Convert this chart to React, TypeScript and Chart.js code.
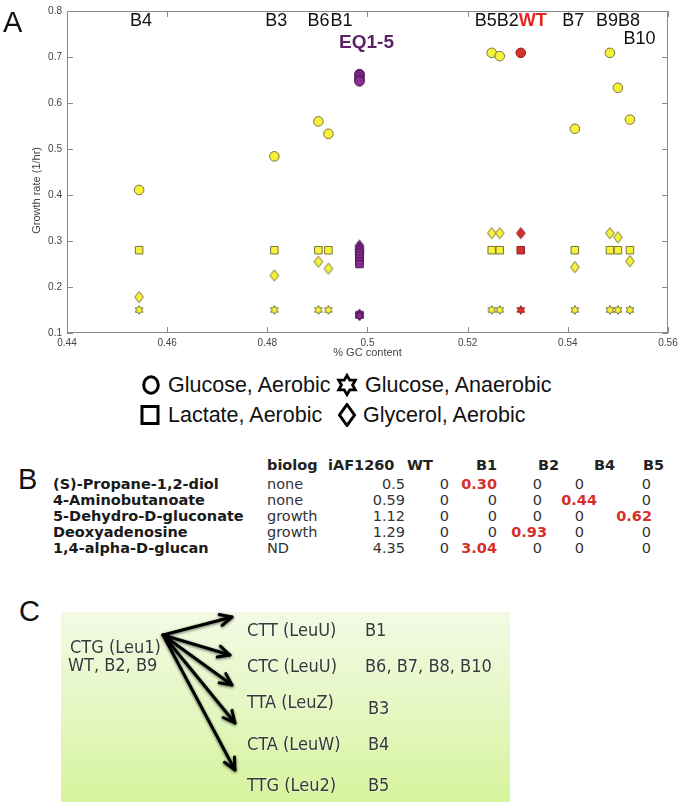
import React, { useEffect, useRef } from 'react';
import { Chart, registerables } from 'chart.js';
Chart.register(...registerables);

// ---------- Panel A data ----------
const strains = ['B4', 'B3', 'B6', 'B1', 'B5', 'B2', 'B7', 'B9', 'B8', 'B10'];
const strainGC = [0.4544, 0.4814, 0.4902, 0.4922, 0.5248, 0.5264, 0.5414, 0.5484, 0.55, 0.5524];
const strainGlcAerobic = [0.411, 0.484, 0.56, 0.533, 0.709, 0.702, 0.544, 0.709, 0.633, 0.564];
const strainGlcAnaerobic = [0.15, 0.15, 0.15, 0.15, 0.15, 0.15, 0.15, 0.15, 0.15, 0.15];
const strainLacAerobic = [0.28, 0.28, 0.28, 0.28, 0.28, 0.28, 0.28, 0.28, 0.28, 0.28];
const strainGlyAerobic = [0.178, 0.225, 0.255, 0.24, 0.317, 0.317, 0.243, 0.317, 0.308, 0.256];

const wtGC = [0.5306];
const wtGlcAerobic = [0.709];
const wtGlcAnaerobic = [0.15];
const wtLacAerobic = [0.28];
const wtGlyAerobic = [0.317];

const eqGC = [0.4984, 0.4984, 0.4984, 0.4984, 0.4984];
const eqGlcAerobic = [0.663, 0.66, 0.655, 0.65, 0.647];
const eqGlcAnaerobic = [0.142, 0.14, 0.139, 0.138, 0.137];
const eqLacAerobic = [0.274, 0.268, 0.262, 0.256, 0.25];
const eqGlyAerobic = [0.29, 0.286, 0.282, 0.278, 0.272];

const tagNames = ['B4', 'B3', 'B6', 'B1', 'B5', 'B2', 'WT', 'B7', 'B9', 'B8', 'B10', 'EQ1-5'];
const tagGC = [0.4548, 0.4818, 0.4902, 0.4948, 0.5236, 0.528, 0.533, 0.5411, 0.5478, 0.5522, 0.5543, 0.4998];
const tagRate = [0.779, 0.779, 0.779, 0.779, 0.779, 0.779, 0.779, 0.779, 0.779, 0.779, 0.74, 0.732];

const conditionNames = ['Glucose, Aerobic', 'Glucose, Anaerobic', 'Lactate, Aerobic', 'Glycerol, Aerobic'];

// ---------- Panel B data ----------
const metabolites = ['(S)-Propane-1,2-diol', '4-Aminobutanoate', '5-Dehydro-D-gluconate', 'Deoxyadenosine', '1,4-alpha-D-glucan'];
const biologCol = ['none', 'none', 'growth', 'growth', 'ND'];
const iAF1260Col = ['0.5', '0.59', '1.12', '1.29', '4.35'];
const wtCol = ['0', '0', '0', '0', '0'];
const b1Col = ['0.30', '0', '0', '0', '3.04'];
const b2Col = ['0', '0', '0', '0.93', '0'];
const b4Col = ['0', '0.44', '0', '0', '0'];
const b5Col = ['0', '0', '0.62', '0', '0'];

// ---------- Panel C data ----------
const codonSource = ['CTG (Leu1)', 'WT, B2, B9'];
const codonTargets = ['CTT (LeuU)', 'CTC (LeuU)', 'TTA (LeuZ)', 'CTA (LeuW)', 'TTG (Leu2)'];
const codonStrains = ['B1', 'B6, B7, B8, B10', 'B3', 'B4', 'B5'];

const YELLOW = '#f6f23a';
const YELLOW_EDGE = '#77733a';
const RED = '#d7302b';
const RED_EDGE = '#8a1f1f';
const PURPLE = '#8d2b93';
const PURPLE_EDGE = '#4f1a58';

function makeShape(kind: string, fill: string, stroke: string): HTMLCanvasElement {
  const c = document.createElement('canvas');
  c.width = 14;
  c.height = 14;
  const g = c.getContext('2d')!;
  g.translate(7, 7);
  g.beginPath();
  if (kind === 'diamond') {
    g.moveTo(0, -5.6);
    g.lineTo(4.3, 0);
    g.lineTo(0, 5.6);
    g.lineTo(-4.3, 0);
    g.closePath();
  } else {
    const R = 4.4;
    for (let k = 0; k < 12; k++) {
      const a = ((-90 + k * 30) * Math.PI) / 180;
      const r = k % 2 === 0 ? R : R / Math.sqrt(3);
      const px = r * Math.cos(a);
      const py = r * Math.sin(a);
      if (k === 0) g.moveTo(px, py);
      else g.lineTo(px, py);
    }
    g.closePath();
  }
  g.fillStyle = fill;
  g.fill();
  g.lineWidth = 1;
  g.strokeStyle = stroke;
  g.stroke();
  return c;
}

function GrowthChart() {
  const ref = useRef<HTMLCanvasElement>(null);
  useEffect(() => {
    const groups = [
      { gc: strainGC, vals: [strainGlcAerobic, strainGlcAnaerobic, strainLacAerobic, strainGlyAerobic], fill: YELLOW, edge: YELLOW_EDGE },
      { gc: eqGC, vals: [eqGlcAerobic, eqGlcAnaerobic, eqLacAerobic, eqGlyAerobic], fill: PURPLE, edge: PURPLE_EDGE },
      { gc: wtGC, vals: [wtGlcAerobic, wtGlcAnaerobic, wtLacAerobic, wtGlyAerobic], fill: RED, edge: RED_EDGE },
    ];
    const order = [2, 3, 0, 1];
    const datasets: any[] = [];
    groups.forEach((grp) => {
      order.forEach((ci) => {
        let pointStyle: any = 'circle';
        let radius = 4.8;
        if (ci === 1) { pointStyle = makeShape('star', grp.fill, grp.edge); radius = 5; }
        if (ci === 2) { pointStyle = 'rect'; radius = 5.3; }
        if (ci === 3) { pointStyle = makeShape('diamond', grp.fill, grp.edge); radius = 5; }
        datasets.push({
          label: conditionNames[ci],
          data: grp.gc.map((x, i) => ({ x, y: grp.vals[ci][i] })),
          pointStyle,
          pointRadius: radius,
          pointBackgroundColor: grp.fill,
          pointBorderColor: grp.edge,
          pointBorderWidth: 1,
          showLine: false,
        });
      });
    });

    const decor = {
      id: 'decor',
      afterDraw(chart: any) {
        const { ctx, chartArea: a, scales } = chart;
        const xs = scales.x;
        const ys = scales.y;
        ctx.save();
        ctx.strokeStyle = '#8a8a8a';
        ctx.lineWidth = 1;
        ctx.strokeRect(a.left + 0.5, a.top + 0.5, a.right - a.left - 1, a.bottom - a.top - 1);
        ctx.beginPath();
        xs.ticks.forEach((t: any) => {
          const px = Math.round(xs.getPixelForValue(t.value)) + 0.5;
          ctx.moveTo(px, a.bottom); ctx.lineTo(px, a.bottom - 6);
          ctx.moveTo(px, a.top); ctx.lineTo(px, a.top + 6);
        });
        ys.ticks.forEach((t: any) => {
          const py = Math.round(ys.getPixelForValue(t.value)) + 0.5;
          ctx.moveTo(a.left, py); ctx.lineTo(a.left + 6, py);
          ctx.moveTo(a.right, py); ctx.lineTo(a.right - 6, py);
        });
        ctx.stroke();

        // axis titles
        ctx.fillStyle = '#444';
        ctx.font = '11px "Liberation Sans", Arial, sans-serif';
        ctx.textAlign = 'center';
        ctx.textBaseline = 'middle';
        ctx.fillText('% GC content', (a.left + a.right) / 2, a.bottom + 20);
        ctx.save();
        ctx.translate(37, ys.getPixelForValue(0.41));
        ctx.rotate(-Math.PI / 2);
        ctx.fillText('Growth rate (1/hr)', 0, 0);
        ctx.restore();

        // strain tags
        tagNames.forEach((name, i) => {
          const px = xs.getPixelForValue(tagGC[i]);
          const py = ys.getPixelForValue(tagRate[i]);
          if (name === 'WT') {
            ctx.fillStyle = '#e8231d';
            ctx.font = 'bold 18px "Liberation Sans", Arial, sans-serif';
          } else if (name.startsWith('EQ')) {
            ctx.fillStyle = '#5c1f68';
            ctx.font = 'bold 19px "Liberation Sans", Arial, sans-serif';
          } else {
            ctx.fillStyle = '#111';
            ctx.font = '18px "Liberation Sans", Arial, sans-serif';
          }
          ctx.fillText(name, px, py);
        });
        ctx.restore();
      },
    };

    const chart = new Chart(ref.current!, {
      type: 'scatter',
      data: { datasets },
      options: {
        animation: false,
        responsive: false,
        devicePixelRatio: 1,
        layout: { padding: { top: 10, right: 14, left: 0, bottom: 0 } },
        plugins: { legend: { display: false }, tooltip: { enabled: false }, title: { display: false } },
        scales: {
          x: {
            type: 'linear',
            min: 0.44,
            max: 0.56,
            grid: { display: false, drawTicks: false },
            border: { display: false },
            ticks: {
              stepSize: 0.02,
              padding: 4,
              color: '#444',
              font: { size: 10, family: '"Liberation Sans", Arial, sans-serif' },
              callback: (v: any) => String(Math.round(Number(v) * 100) / 100),
            },
            afterFit: (s: any) => { s.height = 32; },
          },
          y: {
            type: 'linear',
            min: 0.1,
            max: 0.8,
            grid: { display: false, drawTicks: false },
            border: { display: false },
            ticks: {
              stepSize: 0.1,
              padding: 5,
              color: '#444',
              font: { size: 10, family: '"Liberation Sans", Arial, sans-serif' },
              callback: (v: any) => String(Math.round(Number(v) * 10) / 10),
            },
            afterFit: (s: any) => { s.width = 67; },
          },
        },
      },
      plugins: [decor],
    });
    return () => chart.destroy();
  }, []);
  return <canvas ref={ref} width={682} height={365} style={{ position: 'absolute', left: 0, top: 0, width: 682, height: 365 }} />;
}

function LegendIcon({ kind }: { kind: number }) {
  const s = 24;
  let shape: any = null;
  if (kind === 0) shape = <ellipse cx={12} cy={12} rx={7.3} ry={8.2} fill="none" stroke="#000" strokeWidth={3} />;
  if (kind === 2) shape = <rect x={4} y={3.5} width={16} height={17} fill="none" stroke="#000" strokeWidth={3} />;
  if (kind === 3) shape = <polygon points="12,1.5 19.5,12 12,22.5 4.5,12" fill="none" stroke="#000" strokeWidth={3} strokeLinejoin="miter" />;
  if (kind === 1) {
    const pts: string[] = [];
    const R = 9.6;
    for (let k = 0; k < 12; k++) {
      const a = ((-90 + k * 30) * Math.PI) / 180;
      const r = k % 2 === 0 ? R : R / Math.sqrt(3);
      pts.push(`${(12 + r * Math.cos(a)).toFixed(2)},${(12 + r * Math.sin(a)).toFixed(2)}`);
    }
    shape = <polygon points={pts.join(' ')} fill="none" stroke="#000" strokeWidth={2.8} strokeLinejoin="miter" />;
  }
  return <svg width={s} height={s} style={{ position: 'absolute', left: -12, top: -12 }}>{shape}</svg>;
}

function LegendA() {
  const items = [
    { k: 0, cx: 151, cy: 385, tx: 168 },
    { k: 1, cx: 347, cy: 385, tx: 365 },
    { k: 2, cx: 150, cy: 415, tx: 168 },
    { k: 3, cx: 347, cy: 415, tx: 363 },
  ];
  return (
    <>
      {items.map((it) => (
        <React.Fragment key={it.k}>
          <div style={{ position: 'absolute', left: it.cx, top: it.cy, width: 0, height: 0 }}>
            <LegendIcon kind={it.k} />
          </div>
          <div style={{ position: 'absolute', left: it.tx, top: it.cy - 13, height: 26, lineHeight: '26px', fontSize: 21.5, fontFamily: '"Liberation Sans", Arial, sans-serif', color: '#111', whiteSpace: 'nowrap' }}>
            {conditionNames[it.k]}
          </div>
        </React.Fragment>
      ))}
    </>
  );
}

function TableB() {
  const font = '"DejaVu Sans", Verdana, sans-serif';
  const fs = 14.5;
  const headerY = 465;
  const rowY0 = 484;
  const rowDy = 16;
  const cell = (text: string, x: number, y: number, align: 'left' | 'right', bold: boolean, color: string, key: string) => (
    <div key={key} style={{
      position: 'absolute', top: y - 10, height: 20, lineHeight: '20px', fontSize: fs, fontFamily: font,
      fontWeight: bold ? 'bold' : 'normal', color, whiteSpace: 'nowrap',
      ...(align === 'left' ? { left: x } : { right: 682 - x }),
    }}>{text}</div>
  );
  const headers = [
    { t: 'biolog', x: 267 }, { t: 'iAF1260', x: 328 }, { t: 'WT', x: 407 },
    { t: 'B1', x: 476 }, { t: 'B2', x: 538 }, { t: 'B4', x: 594 }, { t: 'B5', x: 643 },
  ];
  const cols = [
    { vals: wtCol, x: 449, redShift: 0 },
    { vals: b1Col, x: 497, redShift: 0 },
    { vals: b2Col, x: 542, redShift: 5 },
    { vals: b4Col, x: 584, redShift: 13 },
    { vals: b5Col, x: 651, redShift: 1 },
  ];
  const out: any[] = [];
  headers.forEach((h, i) => out.push(cell(h.t, h.x, headerY, 'left', true, '#222', 'h' + i)));
  metabolites.forEach((m, r) => {
    const y = rowY0 + r * rowDy;
    out.push(cell(m, 53, y, 'left', true, '#1a1a1a', 'm' + r));
    out.push(cell(biologCol[r], 267, y, 'left', false, '#333', 'b' + r));
    out.push(cell(iAF1260Col[r], 405, y, 'right', false, '#333', 'i' + r));
    cols.forEach((c, ci) => {
      const v = c.vals[r];
      const hit = v !== '0';
      out.push(cell(v, c.x + (hit ? c.redShift : 0), y, 'right', hit, hit ? '#d5302b' : '#333', 'c' + ci + '-' + r));
    });
  });
  return <>{out}</>;
}

function PanelC() {
  const font = '"DejaVu Sans Condensed", "DejaVu Sans", sans-serif';
  const origin = { x: 163, y: 635 };
  const ends = [
    { x: 232, y: 617 }, { x: 230, y: 655 }, { x: 232, y: 685 }, { x: 235, y: 723 }, { x: 235, y: 770 },
  ];
  const targetY = [630, 666, 702, 744, 785];
  const strainPos = [{ x: 365, y: 630 }, { x: 365, y: 666 }, { x: 368, y: 708 }, { x: 368, y: 744 }, { x: 368, y: 785 }];
  const txt = (t: string, x: number, y: number, key: string) => (
    <div key={key} style={{
      position: 'absolute', left: x, top: y - 13, height: 26, lineHeight: '26px', fontSize: 18,
      fontFamily: font, fontStretch: 'condensed', color: '#383838', whiteSpace: 'nowrap',
      textShadow: '0 0 2px rgba(255,255,255,0.9)',
    }}>{t}</div>
  );
  const arrowHead = (e: { x: number; y: number }) => {
    const ang = Math.atan2(e.y - origin.y, e.x - origin.x);
    const L = 13;
    const spread = 0.45;
    const p1 = { x: e.x - L * Math.cos(ang - spread), y: e.y - L * Math.sin(ang - spread) };
    const p2 = { x: e.x - L * Math.cos(ang + spread), y: e.y - L * Math.sin(ang + spread) };
    return `M${p1.x.toFixed(1)},${p1.y.toFixed(1)} L${e.x},${e.y} L${p2.x.toFixed(1)},${p2.y.toFixed(1)}`;
  };
  return (
    <>
      <div style={{ position: 'absolute', left: 61, top: 612, width: 449, height: 190, background: 'linear-gradient(180deg, #f2fae4 0%, #e6f7c6 45%, #d5f49c 100%)' }} />
      <svg width={682} height={806} style={{ position: 'absolute', left: 0, top: 0 }}>
        <defs>
          <filter id="sh" x="-20%" y="-20%" width="140%" height="140%">
            <feGaussianBlur in="SourceAlpha" stdDeviation="1.6" />
            <feOffset dx="0" dy="1" result="b" />
            <feComponentTransfer><feFuncA type="linear" slope="0.6" /></feComponentTransfer>
            <feMerge><feMergeNode /><feMergeNode in="SourceGraphic" /></feMerge>
          </filter>
        </defs>
        <g filter="url(#sh)" stroke="#000" strokeWidth={3} fill="none" strokeLinecap="round" strokeLinejoin="round">
          {ends.map((e, i) => (
            <g key={i}>
              <line x1={origin.x} y1={origin.y} x2={e.x} y2={e.y} />
              <path d={arrowHead(e)} />
            </g>
          ))}
        </g>
      </svg>
      {txt(codonSource[0], 70, 647, 's0')}
      {txt(codonSource[1], 68, 665, 's1')}
      {codonTargets.map((t, i) => txt(t, 247, targetY[i], 't' + i))}
      {codonStrains.map((t, i) => txt(t, strainPos[i].x, strainPos[i].y, 'st' + i))}
    </>
  );
}

export default function App() {
  const letter = (t: string, x: number, y: number) => (
    <div style={{ position: 'absolute', left: x, top: y - 17, height: 34, lineHeight: '34px', fontSize: 29, fontFamily: '"Liberation Sans", Arial, sans-serif', color: '#111' }}>{t}</div>
  );
  return (
    <div style={{ position: 'absolute', left: 0, top: 0, width: 682, height: 806, background: '#fff', overflow: 'hidden' }}>
      <GrowthChart />
      {letter('A', 3, 22)}
      <LegendA />
      {letter('B', 18, 479)}
      <TableB />
      {letter('C', 19, 611)}
      <PanelC />
    </div>
  );
}
